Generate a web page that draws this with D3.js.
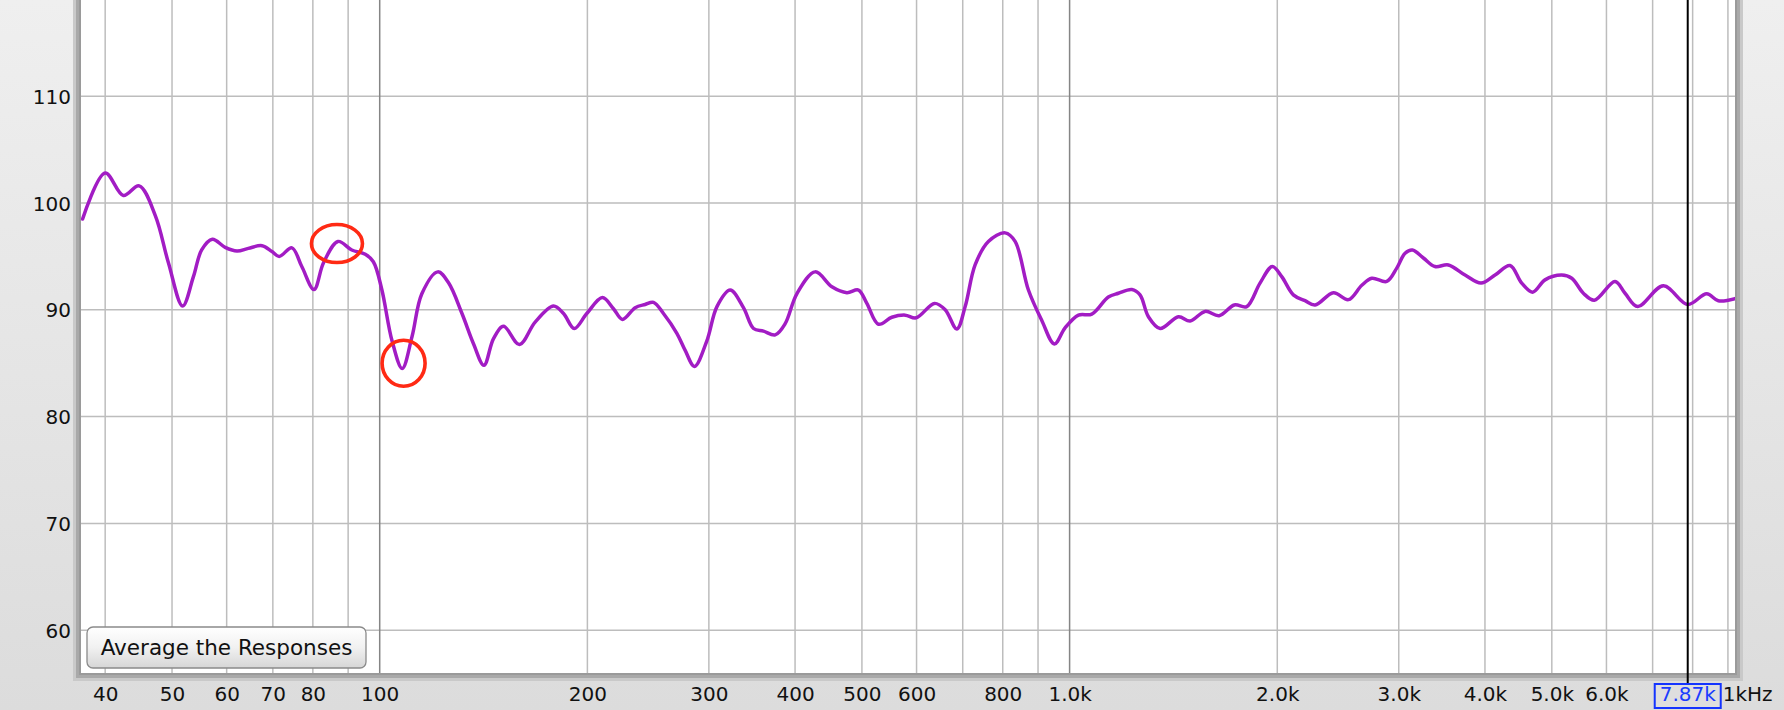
<!DOCTYPE html>
<html>
<head>
<meta charset="utf-8">
<script src="https://cdn.jsdelivr.net/npm/d3@7"></script>
<style>
  html, body { margin: 0; padding: 0; background: #e6e6e6; }
  svg { display: block; }
  text { font-family: "DejaVu Sans", "Liberation Sans", sans-serif; }
</style>
</head>
<body>
<svg id="chart" width="1784" height="710"></svg>
<script>
// ---------------- data ----------------
const freqs = [37.1, 40.0, 42.5, 44.8, 47.3, 49.4, 51.8, 53.7, 55.2, 57.2, 59.7, 62.1, 64.5, 67.5, 69.8, 71.5,
  74.6, 77.1, 80.3, 82.9, 87.0, 91.1, 95.3, 97.9, 100.7, 104.2, 107.8, 111.4, 115.1, 121.4, 125.9, 131.6,
  136.8, 141.6, 146.2, 151.2, 159.4, 168.0, 178.6, 184.7, 191.4, 199.6, 210.3, 218.2, 224.8, 234.6, 242.5,
  249.4, 257.8, 269.6, 277.2, 285.9, 298.0, 308.2, 322.1, 336.7, 348.2, 360.0, 374.3, 387.0, 402.4, 427.8,
  452.3, 475.5, 494.3, 508.3, 528.4, 552.5, 577.6, 599.1, 637.1, 660.2, 686.4, 705.7, 729.5, 762.6, 806.4,
  833.7, 871.6, 911.4, 950.6, 985, 1030, 1077, 1138, 1177, 1231, 1265, 1301, 1353, 1438, 1495, 1572, 1647,
  1733, 1806, 1888, 1967, 2030, 2110, 2194, 2269, 2412, 2536, 2652, 2742, 2882, 2980, 3064, 3140, 3257,
  3386, 3540, 3743, 3948, 4137, 4349, 4522, 4691, 4888, 5168, 5344, 5555, 5763, 6174, 6384, 6660, 7255,
  7870, 8385, 8716, 9215];
const spl = [98.5, 102.8, 100.7, 101.6, 98.8, 94.4, 90.35, 93.1, 95.6, 96.6, 95.85, 95.5, 95.75, 96.0, 95.45, 95.0,
  95.8, 94.05, 91.9, 94.4, 96.4, 95.6, 95.2, 94.5, 91.9, 87.1, 84.5, 87.5, 91.5, 93.55, 92.5, 89.65,
  86.8, 84.8, 87.3, 88.45, 86.75, 88.85, 90.35, 89.65, 88.25, 89.65, 91.15, 90.1, 89.1, 90.2, 90.5,
  90.7, 89.65, 87.8, 86.2, 84.7, 87.1, 90.3, 91.85, 90.2, 88.25, 88.0, 87.65, 88.7, 91.5, 93.55,
  92.15, 91.6, 91.85, 90.6, 88.65, 89.3, 89.5, 89.25, 90.6, 90.0, 88.2, 90.3, 94.2, 96.4, 97.2,
  96.4, 91.85, 89.0, 86.8, 88.3, 89.5, 89.6, 91.2, 91.55, 91.9, 91.4, 89.35, 88.25, 89.35, 88.95, 89.85, 89.45,
  90.45, 90.3, 92.5, 94.05, 93.1, 91.4, 90.85, 90.45, 91.6, 90.95, 92.3, 92.95, 92.65, 93.9, 95.3, 95.6, 94.85,
  94.05, 94.2, 93.25, 92.5, 93.25, 94.15, 92.5, 91.65, 92.8, 93.25, 92.95, 91.55, 90.9, 92.65, 91.55, 90.3, 92.25,
  90.5, 91.5, 90.85, 91.05];

const yTicks = [60, 70, 80, 90, 100, 110];
const xGridMinor = [40, 50, 60, 70, 80, 90, 200, 300, 400, 500, 600, 700, 800, 900,
  2000, 3000, 4000, 5000, 6000, 7000, 8000, 9000];
const xGridMajor = [100, 1000];
const xTickValues = [40, 50, 60, 70, 80, 100, 200, 300, 400, 500, 600, 800, 1000, 2000, 3000, 4000, 5000, 6000];
const xTickLabels = ["40", "50", "60", "70", "80", "100", "200", "300", "400", "500", "600", "800",
  "1.0k", "2.0k", "3.0k", "4.0k", "5.0k", "6.0k"];
const endLabel = "1kHz";   // visible part of the end-of-axis label (rest hidden by cursor box)
const cursorFreq = 7870;
const cursorLabel = "7.87k";
const markerFreqs = [86.7, 108.3];
const markerDb = [96.2, 85.0];
const markerRx = [25.5, 21.5];
const markerRy = [19, 23];
const buttonLabel = "Average the Responses";

// ---------------- layout ----------------
const W = 1784, H = 710;
const L = 81, R = 1735, T = 0, B = 673;
const svg = d3.select("#chart");

const x = d3.scaleLog().domain([36.9, 9215]).range([L, R]);
const y = d3.scaleLinear().domain([56, 119]).range([B, T]);

const defs = svg.append("defs");
const bg = defs.append("linearGradient").attr("id", "bg").attr("x1", 0).attr("y1", 0).attr("x2", 0).attr("y2", 1);
bg.append("stop").attr("offset", "0%").attr("stop-color", "#efefef");
bg.append("stop").attr("offset", "100%").attr("stop-color", "#dcdcdc");
const btn = defs.append("linearGradient").attr("id", "btn").attr("x1", 0).attr("y1", 0).attr("x2", 0).attr("y2", 1);
btn.append("stop").attr("offset", "0%").attr("stop-color", "#ffffff");
btn.append("stop").attr("offset", "50%").attr("stop-color", "#f1f1f1");
btn.append("stop").attr("offset", "100%").attr("stop-color", "#d6d6d6");
defs.append("clipPath").attr("id", "plotclip").append("rect")
  .attr("x", L).attr("y", T).attr("width", R - L).attr("height", B - T);

svg.append("rect").attr("width", W).attr("height", H).attr("fill", "url(#bg)");

// frame / shadow
svg.append("rect").attr("x", L - 8).attr("y", -10).attr("width", R - L + 16).attr("height", B + 10 + 8).attr("fill", "#c9c9c9");
svg.append("rect").attr("x", L - 5).attr("y", -10).attr("width", R - L + 10).attr("height", B + 10 + 5).attr("fill", "#a9a9a9");
svg.append("rect").attr("x", L - 2).attr("y", -10).attr("width", R - L + 4).attr("height", B + 10 + 2).attr("fill", "#9a9a9a");
svg.append("rect").attr("x", L).attr("y", T).attr("width", R - L).attr("height", B - T).attr("fill", "#ffffff");

const plot = svg.append("g").attr("clip-path", "url(#plotclip)");

// horizontal grid
plot.selectAll("line.hg").data(yTicks).join("line")
  .attr("x1", L).attr("x2", R)
  .attr("y1", d => y(d)).attr("y2", d => y(d))
  .attr("stroke", "#bdbdbd").attr("stroke-width", 1.5);

// vertical grid
plot.selectAll("line.vg").data(xGridMinor).join("line")
  .attr("x1", d => x(d)).attr("x2", d => x(d))
  .attr("y1", T).attr("y2", B)
  .attr("stroke", "#bdbdbd").attr("stroke-width", 1.5);
plot.selectAll("line.vgm").data(xGridMajor).join("line")
  .attr("x1", d => x(d)).attr("x2", d => x(d))
  .attr("y1", T).attr("y2", B)
  .attr("stroke", "#858585").attr("stroke-width", 1.5);

// cursor line
svg.append("line")
  .attr("x1", x(cursorFreq)).attr("x2", x(cursorFreq))
  .attr("y1", T).attr("y2", 684)
  .attr("stroke", "#000").attr("stroke-width", 2);

// response curve
const pts = freqs.map((f, i) => [f, spl[i]]);
const line = d3.line().x(d => x(d[0])).y(d => y(d[1])).curve(d3.curveCatmullRom.alpha(0.5));
plot.append("path").datum(pts).attr("d", line)
  .attr("fill", "none").attr("stroke", "#a21cc4").attr("stroke-width", 3.5)
  .attr("stroke-linejoin", "round").attr("stroke-linecap", "round");

// red annotation ellipses
svg.selectAll("ellipse.mk").data(markerFreqs).join("ellipse")
  .attr("cx", d => x(d)).attr("cy", (d, i) => y(markerDb[i]))
  .attr("rx", (d, i) => markerRx[i]).attr("ry", (d, i) => markerRy[i])
  .attr("fill", "none").attr("stroke", "#ff2a14").attr("stroke-width", 3.6);

// y axis labels
const yAxis = d3.axisLeft(y).tickValues(yTicks).tickSize(0).tickPadding(0).tickFormat(d3.format("d"));
const gy = svg.append("g").attr("transform", `translate(${L - 10},0)`).call(yAxis);
gy.select(".domain").remove();
gy.selectAll("text").attr("font-size", 20).attr("fill", "#111")
  .attr("font-family", "DejaVu Sans").attr("dy", "0.36em");

// x axis labels
const xAxis = d3.axisBottom(x).tickValues(xTickValues).tickSize(0).tickPadding(0)
  .tickFormat((d, i) => xTickLabels[i]);
const gx = svg.append("g").attr("transform", `translate(0,${B})`).call(xAxis);
gx.select(".domain").remove();
gx.selectAll("text").attr("font-size", 20).attr("fill", "#111")
  .attr("font-family", "DejaVu Sans").attr("y", 0).attr("dy", 28);

// cursor box
const cx = x(cursorFreq);
svg.append("rect").attr("x", cx - 33).attr("y", 684).attr("width", 66).attr("height", 24)
  .attr("fill", "#dedede").attr("stroke", "#1434ff").attr("stroke-width", 2);
svg.append("text").attr("x", cx).attr("y", B + 28).attr("text-anchor", "middle")
  .attr("font-size", 20).attr("fill", "#1a3cff").text(cursorLabel);

// end label (visible part, right after the cursor box)
svg.append("text").attr("x", cx + 35).attr("y", B + 28).attr("text-anchor", "start")
  .attr("font-size", 20).attr("fill", "#111").text(endLabel);

// button
const bx = 87, by = 627, bw = 279, bh = 41;
svg.append("rect").attr("x", bx).attr("y", by).attr("width", bw).attr("height", bh)
  .attr("rx", 6).attr("ry", 6).attr("fill", "url(#btn)")
  .attr("stroke", "#8a8a8a").attr("stroke-width", 1.3);
svg.append("text").attr("x", bx + bw / 2).attr("y", by + bh / 2).attr("dy", "0.36em")
  .attr("text-anchor", "middle").attr("font-size", 21.5).attr("fill", "#111").text(buttonLabel);
</script>
</body>
</html>
